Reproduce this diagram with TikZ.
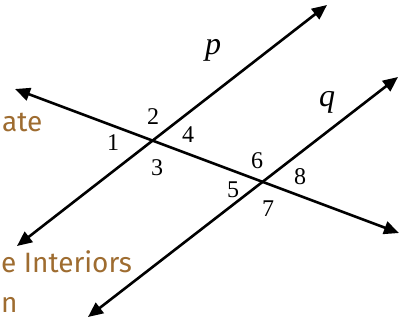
\documentclass[tikz,border=0pt]{standalone}
\usepackage{fontspec}
\setmainfont{Liberation Serif}
\newfontfamily\handfont{Fira Sans}
\usetikzlibrary{arrows.meta}
\definecolor{handbrown}{RGB}{158,108,48}

\begin{document}
\begin{tikzpicture}[
        x=1pt, y=-1pt,
        line/.style={{Triangle[length=15pt,width=13pt]}-{Triangle[length=15pt,width=13pt]}, line width=2.6pt},
        num/.style={font=\fontsize{24}{24}\selectfont, inner sep=0pt},
        lbl/.style={font=\fontsize{32}{32}\selectfont\itshape, inner sep=0pt},
        hand/.style={font=\fontsize{28}{28}\selectfont\handfont, text=handbrown, inner sep=0pt}
        ]
        \useasboundingbox (0,0) rectangle (404,325);
        % line ends
        \coordinate (pA) at (17,246);
        \coordinate (pB) at (327,5);
        \coordinate (qA) at (88,317);
        \coordinate (qB) at (398,77);
        \coordinate (tA) at (15,89);
        \coordinate (tB) at (399,233);
        \draw[line] (pA) -- (pB);
        \draw[line] (qA) -- (qB);
        \draw[line] (tA) -- (tB);
        % line names
        \node[lbl] (p) at (213,50) {p};
        \node[lbl] (q) at (327,102) {q};
        % angles
        \node[num] (a1) at (113,143) {1};
        \node[num] (a2) at (153,117) {2};
        \node[num] (a3) at (157,168) {3};
        \node[num] (a4) at (188,135) {4};
        \node[num] (a5) at (233,190) {5};
        \node[num] (a6) at (257,161) {6};
        \node[num] (a7) at (268,209) {7};
        \node[num] (a8) at (300,177) {8};
        % notes
        \node[hand, anchor=west] (alt) at (2,122) {ate};
        \node[hand, anchor=west] (inter) at (1,262) {e Interiors};
        \node[hand, anchor=west] (n) at (1,305) {n};
    \end{tikzpicture}
\end{document}
